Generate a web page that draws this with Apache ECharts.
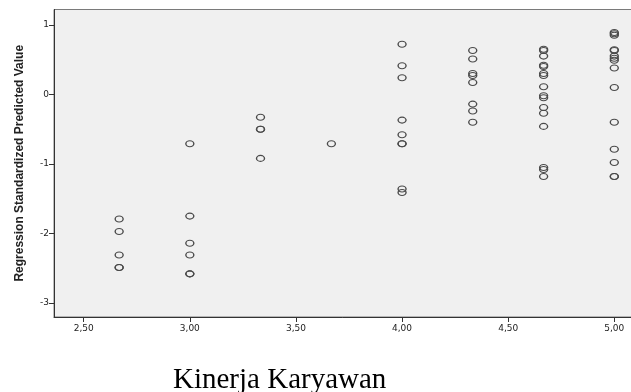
<!DOCTYPE html>
<html>
<head>
<meta charset="utf-8">
<script src="https://cdn.jsdelivr.net/npm/echarts@6/dist/echarts.min.js"></script>
<style>
  html, body { margin: 0; padding: 0; background: #fff; }
  #chart { width: 631px; height: 392px; }
</style>
</head>
<body>
<div id="chart"></div>
<script>
// x groups (Kinerja Karyawan) and predicted values per group
var xGroups = [2.667, 3.000, 3.333, 3.667, 4.000, 4.333, 4.667, 5.000];
var yByGroup = [
    [-1.79, -1.97, -2.31, -2.49, -2.49],
    [-0.71, -1.75, -2.14, -2.31, -2.58, -2.58],
    [-0.33, -0.50, -0.50, -0.92],
    [-0.71],
    [0.72, 0.41, 0.24, -0.37, -0.58, -0.71, -0.71, -1.36, -1.41],
    [0.63, 0.51, 0.30, 0.27, 0.17, -0.14, -0.24, -0.40],
    [0.65, 0.63, 0.55, 0.42, 0.40, 0.30, 0.27, 0.11, -0.02, -0.05, -0.19, -0.27, -0.46, -1.05, -1.08, -1.18],
    [0.89, 0.87, 0.85, 0.64, 0.63, 0.55, 0.52, 0.49, 0.38, 0.10, -0.40, -0.79, -0.98, -1.18, -1.18]
];
var xTicks = [2.5, 3.0, 3.5, 4.0, 4.5, 5.0];
var yTicks = [-3, -2, -1, 0, 1];

var points = [];
for (var i = 0; i < xGroups.length; i++) {
    for (var j = 0; j < yByGroup[i].length; j++) {
        points.push([xGroups[i], yByGroup[i][j]]);
    }
}

var myChart = echarts.init(document.getElementById('chart'));
var option = {
    animation: false,
    grid: {
        left: 54,
        top: 9.5,
        bottom: 75,
        right: -13,
        outerBoundsMode: 'none',
        containLabel: false,
        show: true,
        backgroundColor: '#f0f0f0',
        borderColor: '#7a7a7a',
        borderWidth: 1
    },
    xAxis: {
        type: 'value',
        min: 2.36,
        max: 5.14,
        splitLine: { show: false },
        axisLine: { onZero: false, lineStyle: { color: '#333', width: 1 } },
        axisTick: { customValues: xTicks, length: 5, lineStyle: { color: '#333' } },
        axisLabel: {
            customValues: xTicks,
            margin: 7,
            color: '#222',
            fontFamily: 'DejaVu Sans',
            fontSize: 9,
            formatter: function (v) { return v.toFixed(2).replace('.', ','); }
        }
    },
    yAxis: {
        type: 'value',
        min: -3.2,
        max: 1.22,
        name: 'Regression Standardized Predicted Value',
        nameLocation: 'middle',
        nameRotate: 90,
        nameGap: 28,
        nameTextStyle: {
            fontFamily: 'Liberation Sans',
            fontWeight: 'bold',
            fontSize: 12,
            color: '#222'
        },
        splitLine: { show: false },
        axisLine: { onZero: false, lineStyle: { color: '#333', width: 1 } },
        axisTick: { customValues: yTicks, length: 5, lineStyle: { color: '#333' } },
        axisLabel: {
            customValues: yTicks,
            margin: 5,
            color: '#222',
            fontFamily: 'DejaVu Sans',
            fontSize: 9
        }
    },
    graphic: [{
        type: 'text',
        left: 173,
        top: 366,
        style: {
            text: 'Kinerja Karyawan',
            font: '29px "Liberation Serif"',
            fill: '#000'
        }
    }],
    series: [{
        type: 'scatter',
        data: points,
        symbol: 'path://M0,5a5,5 0 1,0 10,0a5,5 0 1,0 -10,0',
        symbolSize: [8, 6],
        itemStyle: {
            color: 'rgba(0,0,0,0)',
            borderColor: '#4a4a4a',
            borderWidth: 1.2,
            opacity: 1
        }
    }]
};
myChart.setOption(option);
</script>
</body>
</html>
